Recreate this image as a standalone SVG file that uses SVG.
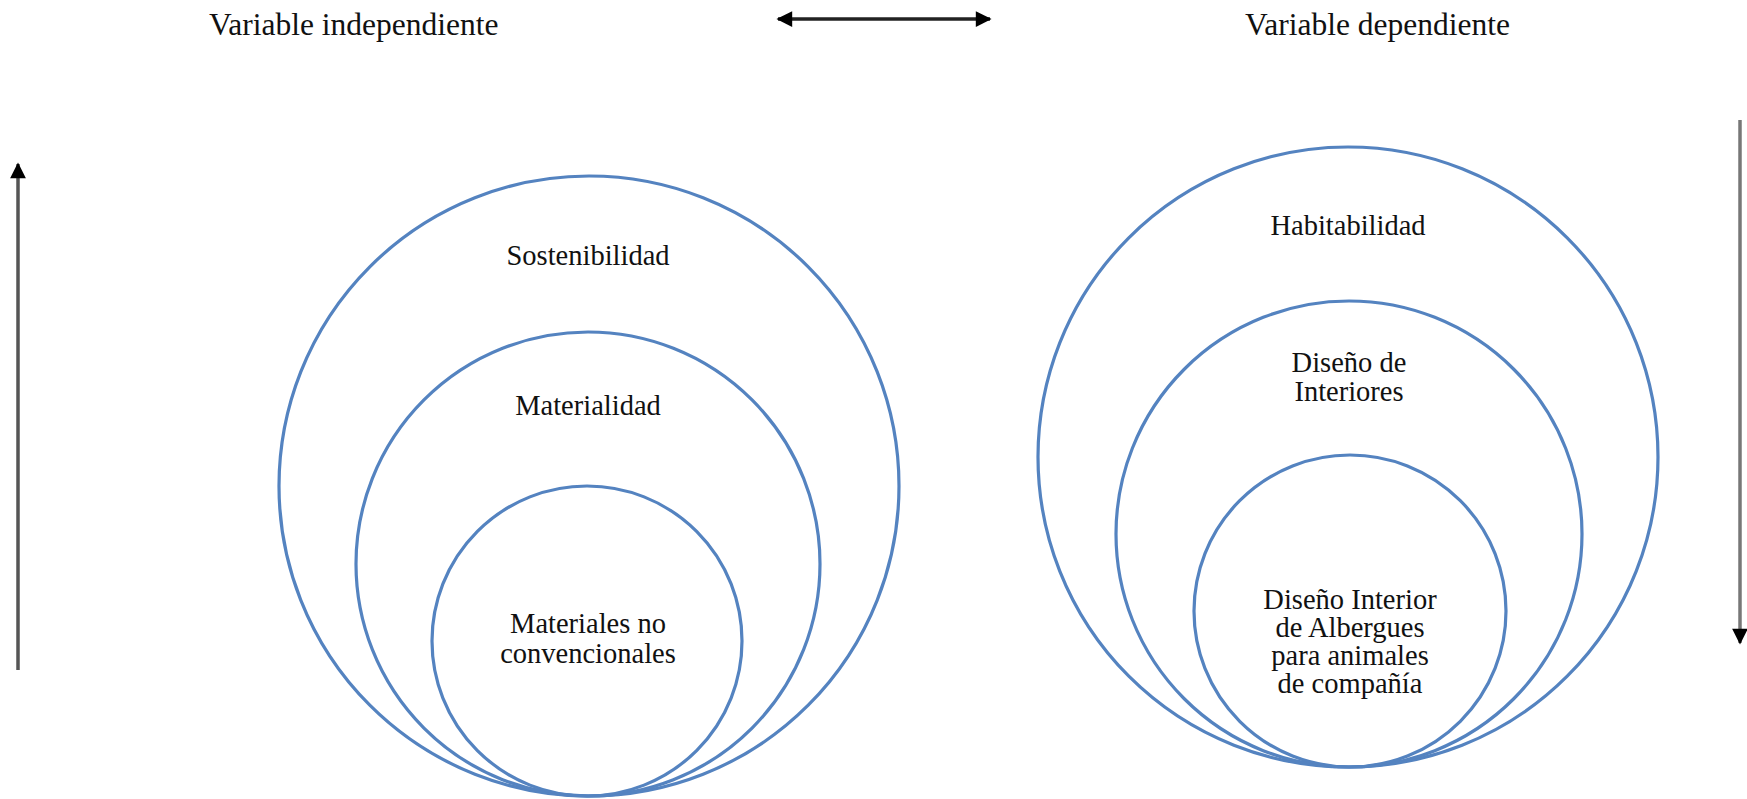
<svg xmlns="http://www.w3.org/2000/svg" width="1747" height="799" viewBox="0 0 1747 799">
<style>
.c{fill:none;stroke:#5483C0;stroke-width:3.2}
.t{font-family:"Liberation Serif","Times New Roman",serif;font-size:28.5px;fill:#111;text-anchor:middle}
.h{font-family:"Liberation Serif","Times New Roman",serif;font-size:31.5px;fill:#111}
.a{stroke:#333;stroke-width:3.5;fill:none}
</style>
<defs>
<marker id="ah" viewBox="0 0 10 10" refX="9" refY="5" markerWidth="5" markerHeight="4.5" orient="auto-start-reverse" markerUnits="strokeWidth">
<path d="M0,0 L10,5 L0,10 z" fill="#000"/>
</marker>
</defs>
<rect width="1747" height="799" fill="#fff"/>
<g id="label-independiente"><text class="h" x="209" y="35">Variable independiente</text></g>
<g id="label-dependiente"><text class="h" x="1245" y="35">Variable dependiente</text></g>
<g id="connectors">
<line class="a" x1="778" y1="19" x2="990" y2="19" marker-start="url(#ah)" marker-end="url(#ah)" style="stroke:#222"/>
<line class="a" x1="18" y1="670" x2="18" y2="164" marker-end="url(#ah)" style="stroke:#555"/>
<line class="a" x1="1740" y1="120" x2="1740" y2="643" marker-end="url(#ah)" style="stroke:#777"/>
</g>
<g id="sostenibilidad">
<circle class="c" cx="589" cy="486" r="310"/>
<text class="t" x="588" y="265">Sostenibilidad</text>
</g>
<g id="materialidad">
<circle class="c" cx="588" cy="564" r="232"/>
<text class="t" x="588" y="415">Materialidad</text>
</g>
<g id="materiales">
<circle class="c" cx="587" cy="641" r="155"/>
<text class="t" x="588" y="633">Materiales no</text>
<text class="t" x="588" y="663">convencionales</text>
</g>
<g id="habitabilidad">
<circle class="c" cx="1348" cy="457" r="310"/>
<text class="t" x="1348" y="235">Habitabilidad</text>
</g>
<g id="diseno-interiores">
<circle class="c" cx="1349" cy="534" r="233"/>
<text class="t" x="1349" y="372">Diseño de</text>
<text class="t" x="1349" y="401">Interiores</text>
</g>
<g id="diseno-albergues">
<circle class="c" cx="1350" cy="611" r="156"/>
<text class="t" x="1350" y="609">Diseño Interior</text>
<text class="t" x="1350" y="637">de Albergues</text>
<text class="t" x="1350" y="665">para animales</text>
<text class="t" x="1350" y="693">de compañía</text>
</g>
</svg>
